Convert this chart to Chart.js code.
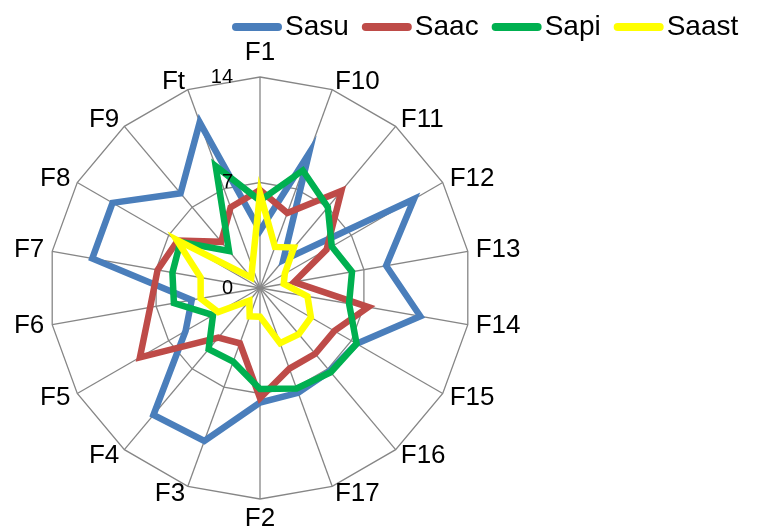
<!DOCTYPE html>
<html>
<head>
<meta charset="utf-8">
<script src="https://cdn.jsdelivr.net/npm/chart.js@4/dist/chart.umd.min.js"></script>
<style>
  html, body { margin: 0; padding: 0; background: #fff; }
  #wrap { width: 775px; height: 531px; }
</style>
</head>
<body>
<div id="wrap"><canvas id="chart"></canvas></div>
<script>
// categories, in the order they sit round the radar (clockwise from the top)
const categories = ['F1', 'F10', 'F11', 'F12', 'F13', 'F14', 'F15', 'F16', 'F17',
                    'F2', 'F3', 'F4', 'F5', 'F6', 'F7', 'F8', 'F9', 'Ft'];

// values
const sasu  = [3.8, 9.5, 2.4, 11.8, 8.5, 10.8, 7.4, 7.2, 7.4, 7.6, 10.8, 11.0, 5.7, 4.6, 11.3, 11.3, 8.2, 11.7];
const saac  = [6.5, 5.3, 8.4, 5.1, 2.3, 7.3, 5.7, 5.7, 5.7, 7.3, 3.9, 4.3, 9.2, 7.4, 6.9, 6.3, 4.0, 5.7];
const sapi  = [5.8, 8.3, 7.0, 5.5, 6.2, 6.0, 7.4, 7.3, 7.1, 6.7, 5.2, 5.3, 3.6, 5.8, 5.9, 6.1, 3.2, 8.6];
const saast = [6.3, 2.9, 3.5, 1.9, 1.6, 3.2, 3.9, 4.0, 3.9, 1.9, 2.0, 1.1, 3.2, 4.0, 4.0, 6.4, 0.9, 1.5];

const seriesNames = ['Sasu', 'Saac', 'Sapi', 'Saast'];
const tickValues = [0, 7, 14];

const colors = ['#4A7EBB', '#BE4B48', '#00B050', '#FFFF00'];
const gridColor = '#868686';
const FONT = 'Arial, "Liberation Sans", sans-serif';

// legend across the top, line swatch then name (Excel style)
const topLegend = {
    id: 'topLegend',
    afterDraw(chart) {
        const ctx = chart.ctx;
        let x = 232;
        const y = 27;
        ctx.save();
        ctx.font = '28px ' + FONT;
        ctx.textBaseline = 'middle';
        ctx.textAlign = 'left';
        chart.data.datasets.forEach(ds => {
            ctx.strokeStyle = ds.borderColor;
            ctx.lineWidth = 8;
            ctx.lineCap = 'round';
            ctx.beginPath();
            ctx.moveTo(x + 4, y);
            ctx.lineTo(x + 46, y);
            ctx.stroke();
            ctx.fillStyle = '#000';
            ctx.fillText(ds.label, x + 53, y);
            x += 53 + ctx.measureText(ds.label).width + 13;
        });
        ctx.restore();
    }
};

// category labels outside the web and the 0 / 7 / 14 values left of the top spoke
const radarText = {
    id: 'radarText',
    afterDatasetsDraw(chart) {
        const scale = chart.scales.r;
        const ctx = chart.ctx;
        ctx.save();
        ctx.fillStyle = '#000';
        ctx.textBaseline = 'middle';

        ctx.font = '26px ' + FONT;
        categories.forEach((label, i) => {
            const a = scale.getIndexAngle(i);
            const p = scale.getPointPosition(i, scale.drawingArea + 8);
            const s = Math.sin(a), c = Math.cos(a);
            let y = p.y;
            if (Math.abs(s) < 0.01) {
                ctx.textAlign = 'center';
                y += c > 0 ? -16 : 12;
            } else {
                ctx.textAlign = s > 0 ? 'left' : 'right';
            }
            ctx.fillText(label, p.x, y);
        });

        ctx.font = '20px ' + FONT;
        ctx.textAlign = 'right';
        tickValues.forEach(v => {
            const d = scale.getDistanceFromCenterForValue(v);
            ctx.fillText(String(v), scale.xCenter - 27, scale.yCenter - d);
        });
        ctx.restore();
    }
};

const allSeries = [sasu, saac, sapi, saast];

new Chart(document.getElementById('chart'), {
    type: 'radar',
    data: {
        labels: categories,
        datasets: allSeries.map((vals, i) => ({
            label: seriesNames[i],
            data: vals,
            borderColor: colors[i],
            backgroundColor: 'transparent',
            borderWidth: 6.5,
            fill: false,
            pointRadius: 0,
            pointHoverRadius: 0,
            tension: 0,
            order: allSeries.length - i   // later series drawn on top, like Excel
        }))
    },
    options: {
        responsive: true,
        maintainAspectRatio: false,
        animation: false,
        layout: { padding: { left: 49, right: 304, top: 77, bottom: 32 } },
        plugins: {
            legend: { display: false },
            tooltip: { enabled: false }
        },
        scales: {
            r: {
                min: 0,
                max: 14,
                ticks: { stepSize: 7, display: false },
                grid: { color: gridColor, lineWidth: 1.3 },
                angleLines: { color: gridColor, lineWidth: 1.3 },
                pointLabels: { display: false }
            }
        }
    },
    plugins: [topLegend, radarText]
});
</script>
</body>
</html>
